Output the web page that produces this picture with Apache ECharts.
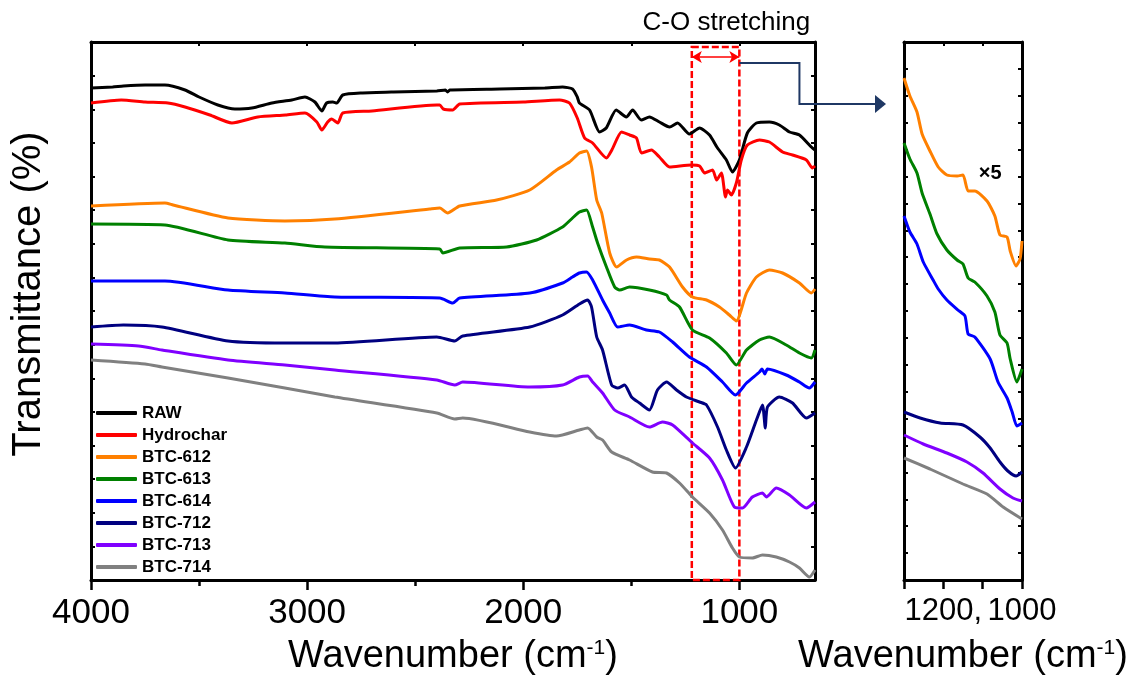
<!DOCTYPE html>
<html><head><meta charset="utf-8">
<script src="https://cdn.jsdelivr.net/npm/echarts@6/dist/echarts.min.js"></script>
<style>html,body{margin:0;padding:0;background:#fff;}#c{width:1134px;height:686px;}</style>
</head><body><div id="c"></div>
<script>
// ---- data (wavenumber cm^-1, offset transmittance a.u.) ----
const seriesNames = ['RAW','Hydrochar','BTC-612','BTC-613','BTC-614','BTC-712','BTC-713','BTC-714'];
const colors = ['#000000','#ff0000','#ff8000','#008000','#0000ff','#000080','#8000ff','#808080'];

const raw = [[4000,492],[3900,493],[3850,494],[3750,495],[3658,495],[3565,490],[3500,483],[3413,475],[3334,471],[3256,472],[3163,477],[3071,480],[3010,483],[2964,478],[2932,469],[2910,477],[2881,478],[2863,477],[2835,485],[2743,487],[2600,488],[2400,489],[2360,490],[2350,488],[2340,490],[2109,491],[1900,492],[1818,493],[1772,491],[1750,483],[1740,477],[1693,470],[1647,448],[1616,452],[1570,470],[1523,463],[1494,470],[1454,460],[1416,463],[1370,458],[1323,453],[1286,457],[1231,446],[1184,452],[1138,445],[1101,432],[1060,420],[1032,408],[1000,420],[963,447],[921,457],[861,458],[815,455],[768,448],[722,445],[667,433],[650,430]];
const hydrochar = [[4000,477],[3860,480],[3750,478],[3644,477],[3565,473],[3450,465],[3348,457],[3228,463],[3100,465],[3010,467],[2955,458],[2932,450],[2905,458],[2886,461],[2858,457],[2835,467],[2700,469],[2400,475],[2386,475],[2370,471],[2326,470],[2294,476],[2000,478],[1832,480],[1786,477],[1750,462],[1716,442],[1679,437],[1615,422],[1590,430],[1545,448],[1508,445],[1476,442],[1453,427],[1407,430],[1370,423],[1323,413],[1222,415],[1184,414],[1161,407],[1124,410],[1105,400],[1083,407],[1064,383],[1055,390],[1037,385],[1014,397],[991,420],[963,435],[907,440],[861,438],[800,428],[754,425],[690,420],[662,412],[650,414]];
const btc612 = [[4000,374],[3658,377],[3620,375],[3366,362],[3103,359],[2872,361],[2433,371],[2386,372],[2350,367],[2294,374],[2123,380],[1970,390],[1846,410],[1786,418],[1740,427],[1707,429],[1684,413],[1660,380],[1637,367],[1600,327],[1568,313],[1522,320],[1476,323],[1416,321],[1370,320],[1323,313],[1263,293],[1217,283],[1152,280],[1092,273],[1046,265],[1014,259],[967,287],[921,303],[861,310],[800,307],[722,297],[667,287],[650,291]];
const btc613 = [[4000,356],[3658,355],[3366,340],[3103,337],[2918,333],[2386,331],[2372,327],[2294,332],[2077,333],[1938,340],[1818,353],[1772,362],[1740,368],[1707,370],[1679,353],[1656,337],[1615,313],[1577,293],[1554,290],[1508,293],[1416,290],[1337,285],[1323,280],[1277,273],[1217,250],[1138,242],[1060,227],[1014,215],[967,230],[907,240],[861,243],[783,235],[722,227],[667,222],[650,230]];
const btc614 = [[4000,299],[3658,299],[3366,290],[3103,287],[2872,283],[2386,282],[2326,277],[2294,282],[1970,287],[1818,297],[1772,303],[1740,307],[1707,308],[1679,300],[1633,280],[1600,267],[1563,253],[1508,255],[1430,250],[1370,248],[1309,238],[1231,223],[1152,213],[1078,198],[1018,185],[967,197],[907,208],[895,211],[882,206],[870,211],[783,205],[722,198],[676,192],[650,198]];
const btc712 = [[4000,253],[3850,255],[3672,253],[3366,239],[3103,237],[2872,237],[2400,243],[2317,239],[2280,244],[1970,253],[1818,265],[1740,276],[1702,280],[1684,273],[1660,243],[1633,230],[1591,195],[1563,192],[1531,195],[1499,183],[1462,177],[1416,170],[1379,190],[1337,198],[1291,190],[1245,183],[1184,178],[1152,175],[1101,153],[1060,130],[1018,112],[967,133],[921,160],[893,175],[880,152],[870,173],[815,183],[754,177],[690,162],[650,167]];
const btc713 = [[4000,236],[3780,234],[3672,230],[3366,220],[3103,215],[2872,210],[2400,200],[2317,195],[2280,198],[1970,193],[1818,195],[1740,203],[1702,204],[1679,198],[1633,187],[1577,170],[1508,163],[1416,153],[1356,158],[1309,155],[1217,137],[1138,122],[1078,100],[1023,73],[985,72],[940,83],[893,87],[875,83],[829,92],[768,85],[690,72],[650,78]];
const btc714 = [[4000,220],[3750,216],[3672,213],[3366,202],[3103,192],[2872,183],[2400,167],[2317,161],[2280,162],[1970,148],[1846,144],[1740,150],[1702,152],[1660,143],[1633,140],[1591,128],[1508,120],[1402,108],[1337,107],[1277,97],[1217,83],[1138,67],[1078,50],[1032,32],[1000,23],[940,22],[893,25],[829,23],[768,18],[722,12],[676,3],[650,10]];

// inset (x5 magnified, 1300-1000 cm^-1)
const insetNames = ['BTC-612','BTC-613','BTC-614','BTC-712','BTC-713','BTC-714'];
const inset612 = [[1300,502],[1285,484],[1267,468],[1254,446],[1234,429],[1213,413],[1191,405],[1165,404],[1150,405],[1137,389],[1120,389],[1089,379],[1069,364],[1056,345],[1038,343],[1030,329],[1015,314],[1005,321],[1000,339]];
const inset613 = [[1300,437],[1285,421],[1267,407],[1254,387],[1234,366],[1216,346],[1191,330],[1165,320],[1150,316],[1137,302],[1120,298],[1089,284],[1069,268],[1056,245],[1038,237],[1030,221],[1013,198],[1000,211]];
const inset614 = [[1300,364],[1285,348],[1267,336],[1251,318],[1226,300],[1213,291],[1191,280],[1163,270],[1145,264],[1137,246],[1120,243],[1081,221],[1061,198],[1038,182],[1025,168],[1013,154],[1000,157]];
const inset712 = [[1300,168],[1259,162],[1208,157],[1150,155],[1107,143],[1081,132],[1056,118],[1036,109],[1015,104],[1000,108]];
const inset713 = [[1300,145],[1251,136],[1191,127],[1140,118],[1099,107],[1056,91],[1023,82],[1000,79]];
const inset714 = [[1300,122],[1234,111],[1150,96],[1089,86],[1048,73],[1000,61]];

const mainTickLabels = [1000, 2000, 3000, 4000];
const mainMinorTicks = [1500, 2500, 3500];
const insetTickLabels = [1000, 1200];
const bandRange = [1220, 1000];  // C-O stretching region

// ---- chart ----
const FONT = '"Liberation Sans", Arial, Helvetica, sans-serif';
const mainData = [raw, hydrochar, btc612, btc613, btc614, btc712, btc713, btc714];
const insetData = [inset612, inset613, inset614, inset712, inset713, inset714];
const YMAX = 538;

const chart = echarts.init(document.getElementById('c'), null, {renderer: 'canvas'});

const axisLineStyle = {show: true, onZero: false, lineStyle: {color: '#000', width: 3}};
const nameRich = {
  a: {fontSize: 38, fontFamily: FONT, color: '#000'},
  s: {fontSize: 21, fontFamily: FONT, color: '#000', verticalAlign: 'top', lineHeight: 21}
};

const xAxes = [
  {gridIndex: 0, type: 'value', position: 'bottom', min: 650, max: 4000, inverse: true,
   axisLine: axisLineStyle, splitLine: {show: false},
   axisTick: {show: true, inside: false, length: 10, customValues: mainTickLabels, lineStyle: {color: '#000', width: 2.5}},
   axisLabel: {show: true, customValues: mainTickLabels, margin: 16, fontSize: 35, fontFamily: FONT, color: '#000',
     formatter: v => String(v)},
   name: '{a|Wavenumber (cm}{s|-1}{a|)}', nameLocation: 'middle', nameGap: 58,
   nameTextStyle: {rich: nameRich}},
  {gridIndex: 0, type: 'value', position: 'bottom', min: 650, max: 4000, inverse: true,
   axisLine: {show: false}, splitLine: {show: false}, axisLabel: {show: false},
   axisTick: {show: true, inside: false, length: 6, customValues: mainMinorTicks, lineStyle: {color: '#000', width: 2.5}}},
  {gridIndex: 0, type: 'value', position: 'top', min: 650, max: 4000, inverse: true,
   axisLine: axisLineStyle, splitLine: {show: false}, axisLabel: {show: false},
   axisTick: {show: true, inside: true, length: 4, customValues: mainTickLabels.concat(mainMinorTicks), lineStyle: {color: '#000', width: 2}}},
  {gridIndex: 1, type: 'value', position: 'bottom', min: 1000, max: 1300, interval: 100, inverse: true,
   axisLine: axisLineStyle, splitLine: {show: false},
   axisTick: {show: true, inside: false, length: 9, lineStyle: {color: '#000', width: 2.5}},
   axisLabel: {show: true, customValues: insetTickLabels, margin: 16, fontSize: 31, fontFamily: FONT, color: '#000',
     showMinLabel: true, showMaxLabel: true, hideOverlap: false,
     formatter: v => (v === 1200 ? '1200,' : String(v))},
   name: '{a|Wavenumber (cm}{s|-1}{a|)}', nameLocation: 'middle', nameGap: 58,
   nameTextStyle: {rich: nameRich}},
  {gridIndex: 1, type: 'value', position: 'top', min: 1000, max: 1300, interval: 100, inverse: true,
   axisLine: axisLineStyle, splitLine: {show: false}, axisLabel: {show: false},
   axisTick: {show: true, inside: true, length: 4, lineStyle: {color: '#000', width: 2}}}
];

const yAxes = [
  {gridIndex: 0, type: 'value', position: 'left', min: 0, max: YMAX, interval: YMAX / 16,
   axisLine: axisLineStyle, splitLine: {show: false}, axisLabel: {show: false},
   axisTick: {show: true, inside: true, length: 4, lineStyle: {color: '#000', width: 2}},
   name: 'Transmittance (%)', nameLocation: 'middle', nameGap: 42,
   nameTextStyle: {fontSize: 40, fontFamily: FONT, color: '#000', padding: [0, 0, 0, 34]}},
  {gridIndex: 0, type: 'value', position: 'right', min: 0, max: YMAX, interval: YMAX / 16,
   axisLine: axisLineStyle, splitLine: {show: false}, axisLabel: {show: false},
   axisTick: {show: true, inside: true, length: 4, lineStyle: {color: '#000', width: 2}}},
  {gridIndex: 1, type: 'value', position: 'left', min: 0, max: YMAX, interval: YMAX / 20,
   axisLine: axisLineStyle, splitLine: {show: false}, axisLabel: {show: false},
   axisTick: {show: true, inside: true, length: 4, lineStyle: {color: '#000', width: 2}}},
  {gridIndex: 1, type: 'value', position: 'right', min: 0, max: YMAX, interval: YMAX / 20,
   axisLine: axisLineStyle, splitLine: {show: false}, axisLabel: {show: false},
   axisTick: {show: true, inside: true, length: 4, lineStyle: {color: '#000', width: 2}}}
];

const series = [];
seriesNames.forEach((n, i) => {
  series.push({
    name: n, type: 'line', xAxisIndex: 0, yAxisIndex: 0, data: mainData[i],
    showSymbol: false, symbol: 'none', smooth: 0.2, lineStyle: {width: 3, color: colors[i]},
    itemStyle: {color: colors[i]}, z: 3, silent: true
  });
});
// band + arrow annotations on main grid
series.push({
  name: 'band', type: 'line', xAxisIndex: 0, yAxisIndex: 0, data: [], silent: true, z: 5,
  markArea: {silent: true, label: {show: false},
    itemStyle: {color: 'rgba(0,0,0,0)', borderColor: '#ff0000', borderWidth: 2.5, borderType: [7, 3]},
    data: [[{xAxis: bandRange[0], yAxis: 533}, {xAxis: bandRange[1], yAxis: 0}]]},
  markLine: {silent: true, symbol: ['arrow', 'arrow'], symbolSize: [9, 10], label: {show: false},
    lineStyle: {color: '#ff0000', width: 1.5, type: 'solid'},
    data: [[{coord: [bandRange[0], 523]}, {coord: [bandRange[1], 523]}]]}
});
insetNames.forEach((n, i) => {
  const ci = seriesNames.indexOf(n);
  series.push({
    name: n, type: 'line', xAxisIndex: 3, yAxisIndex: 2, data: insetData[i],
    showSymbol: false, symbol: 'none', smooth: 0.2, lineStyle: {width: 3, color: colors[ci]},
    itemStyle: {color: colors[ci]}, z: 3, silent: true
  });
});

chart.setOption({
  animation: false,
  backgroundColor: '#ffffff',
  grid: [
    {left: 91, top: 42, width: 724, height: 538},
    {left: 904, top: 42, width: 118, height: 538}
  ],
  xAxis: xAxes,
  yAxis: yAxes,
  legend: {
    data: seriesNames, orient: 'vertical', left: 91, top: 398,
    icon: 'roundRect', itemWidth: 41, itemHeight: 4, itemGap: 2,
    textStyle: {fontSize: 17, fontWeight: 'bold', fontFamily: FONT, color: '#000', lineHeight: 20},
    selectedMode: false
  },
  series: series
});

// decorations positioned through the axes
const p0 = chart.convertToPixel({xAxisIndex: 0, yAxisIndex: 0}, [1000, 517]);
const p1 = chart.convertToPixel({xAxisIndex: 0, yAxisIndex: 0}, [722, 517]);
const p2 = chart.convertToPixel({xAxisIndex: 0, yAxisIndex: 0}, [722, 476]);
const insetLeft = chart.convertToPixel({xAxisIndex: 3}, 1300);
const tipX = insetLeft - 18;
const lbl = chart.convertToPixel({xAxisIndex: 0, yAxisIndex: 0}, [1060, 557]);
const x5 = chart.convertToPixel({xAxisIndex: 3, yAxisIndex: 2}, [1081, 407]);
const navy = '#1f3864';
chart.setOption({
  graphic: [
    {type: 'polyline', silent: true, z: 20,
     shape: {points: [p0, p1, p2, [tipX - 9, p2[1]]]},
     style: {stroke: navy, lineWidth: 2, fill: null}},
    {type: 'polygon', silent: true, z: 20,
     shape: {points: [[tipX, p2[1]], [tipX - 11, p2[1] - 9], [tipX - 11, p2[1] + 9]]},
     style: {fill: navy}},
    {type: 'text', silent: true, z: 20, x: lbl[0], y: lbl[1],
     style: {text: 'C-O stretching', fontSize: 26, fontFamily: FONT, fill: '#000',
             align: 'center', verticalAlign: 'middle'}},
    {type: 'text', silent: true, z: 20, x: x5[0], y: x5[1],
     style: {text: '×5', fontSize: 20, fontWeight: 'bold', fontFamily: FONT, fill: '#000',
             align: 'center', verticalAlign: 'middle'}}
  ]
});
</script>
</body></html>
